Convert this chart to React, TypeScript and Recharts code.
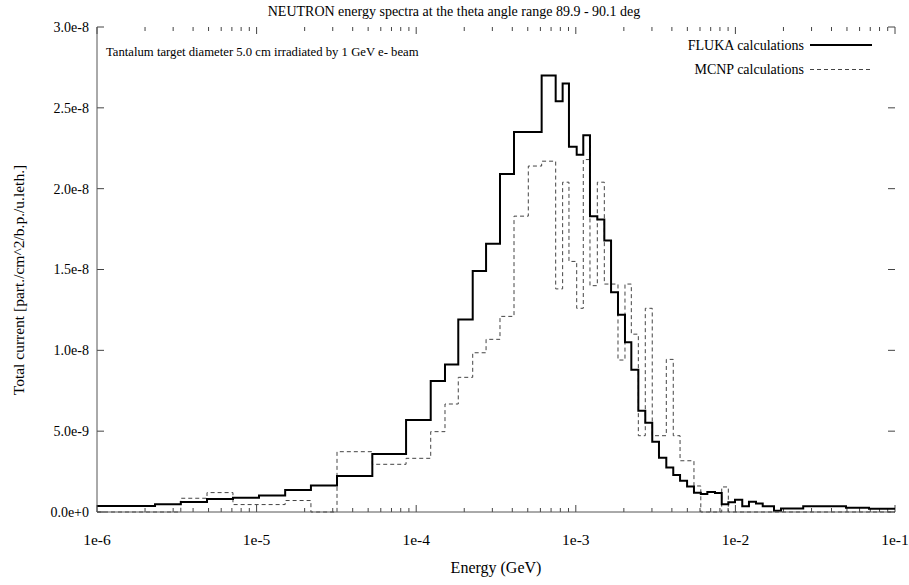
import { LineChart, Line, XAxis, YAxis, ReferenceLine } from 'recharts';

// lower bin edges (GeV); the last entry closes the final bin
const edges = [
  1e-6, 2.31e-6, 3.35e-6, 4.89e-6, 7.11e-6, 1.035e-5, 1.51e-5, 2.19e-5, 3.19e-5, 5.31e-5,
  8.64e-5, 1.233e-4, 1.515e-4, 1.835e-4, 2.26e-4, 2.74e-4, 3.35e-4, 4.1e-4, 5.04e-4, 6.11e-4,
  7.48e-4, 8.27e-4, 9.06e-4, 1.013e-3, 1.114e-3, 1.227e-3, 1.364e-3, 1.509e-3, 1.663e-3, 1.838e-3,
  2.033e-3, 2.228e-3, 2.465e-3, 2.725e-3, 3.013e-3, 3.32e-3, 3.69e-3, 4.08e-3, 4.5e-3, 4.98e-3,
  5.5e-3, 6.07e-3, 6.67e-3, 7.45e-3, 8.21e-3, 9.03e-3, 9.94e-3, 1.104e-2, 1.216e-2, 1.346e-2,
  1.483e-2, 1.745e-2, 1.93e-2, 2.66e-2, 4.93e-2, 6.87e-2, 1e-1,
];

const fluka = [
  3.7e-10, 4.8e-10, 6.2e-10, 8.0e-10, 8.8e-10, 1.02e-9, 1.36e-9, 1.64e-9, 2.23e-9, 3.59e-9,
  5.69e-9, 8.1e-9, 9.13e-9, 1.19e-8, 1.49e-8, 1.66e-8, 2.09e-8, 2.35e-8, 2.35e-8, 2.7e-8,
  2.54e-8, 2.65e-8, 2.26e-8, 2.21e-8, 2.33e-8, 1.83e-8, 1.81e-8, 1.68e-8, 1.36e-8, 1.22e-8,
  1.05e-8, 8.8e-9, 6.26e-9, 5.52e-9, 4.35e-9, 3.36e-9, 2.76e-9, 2.29e-9, 1.94e-9, 1.57e-9,
  1.19e-9, 1.11e-9, 1.24e-9, 1.18e-9, 4.8e-10, 6.0e-10, 7.6e-10, 3.5e-10, 6.4e-10, 5.2e-10,
  3.5e-10, 7e-11, 2.1e-10, 3.6e-10, 2.7e-10, 2.0e-10,
];

const mcnp = [
  0, 0, 8.5e-10, 1.2e-9, 4.6e-10, 4.6e-10, 7.1e-10, 0, 3.73e-9, 2.95e-9,
  3.32e-9, 4.97e-9, 6.68e-9, 8.33e-9, 9.85e-9, 1.068e-8, 1.21e-8, 1.83e-8, 2.14e-8, 2.17e-8,
  1.38e-8, 2.04e-8, 1.55e-8, 1.26e-8, 2.18e-8, 1.4e-8, 2.04e-8, 1.41e-8, 1.41e-8, 9.4e-9,
  1.41e-8, 1.1e-8, 4.72e-9, 1.26e-8, 4.72e-9, 4.72e-9, 9.44e-9, 4.72e-9, 3.17e-9, 3.17e-9,
  1.61e-9, 0, 0, 0, 1.55e-9, 0, 0, 0, 0, 0,
  0, 0, 0, 0, 0, 0,
];

const decades = [1e-6, 1e-5, 1e-4, 1e-3, 1e-2, 1e-1];
const decadeLabels = ['1e-6', '1e-5', '1e-4', '1e-3', '1e-2', '1e-1'];
const minorFactors = [2, 3, 4, 5, 6, 7, 8, 9];
const yTicks = [0, 5e-9, 1e-8, 1.5e-8, 2e-8, 2.5e-8, 3e-8];
const yTickLabels = ['0.0e+0', '5.0e-9', '1.0e-8', '1.5e-8', '2.0e-8', '2.5e-8', '3.0e-8'];

const X_MIN = 1e-6;
const X_MAX = 1e-1;
const Y_MAX = 3e-8;

const minorTicks = decades.slice(0, -1).flatMap((d) => minorFactors.map((m) => d * m));

const data = edges.map((e, i) => ({
  e,
  fluka: fluka[Math.min(i, fluka.length - 1)],
  mcnp: mcnp[Math.min(i, mcnp.length - 1)],
}));

const FONT = 'Liberation Serif';
const FRAME = '#555';
const TICK = '#444';
const text = (size: number) => ({ fontFamily: FONT, fontSize: size, fill: '#000' });

// inward tick lengths, expressed in axis units (plot is 798 x 485 px)
const yPerPx = Y_MAX / 485;
const xFactorPerPx = Math.pow(X_MAX / X_MIN, 1 / 798);
const MAJOR = 7;
const MINOR = 4;

const decadeLabel = (v: number) => {
  const i = decades.findIndex((d) => Math.abs(d - v) / d < 1e-6);
  return i >= 0 ? decadeLabels[i] : '';
};
const yLabel = (v: number) => yTickLabels[yTicks.indexOf(v)] ?? '';

const xTickMarks = [
  ...decades.map((v) => ({ v, len: MAJOR })),
  ...minorTicks.map((v) => ({ v, len: MINOR })),
];

export default function App() {
  return (
    <div style={{ position: 'relative', width: 909, height: 585, background: '#fff' }}>
      <style>{'body{margin:0}'}</style>
      <LineChart width={909} height={585} data={data} margin={{ top: 27, right: 14, bottom: 0, left: 7 }}>
        <XAxis
          dataKey="e"
          type="number"
          scale="log"
          domain={[X_MIN, X_MAX]}
          allowDataOverflow
          ticks={decades}
          interval={0}
          height={73}
          tickSize={0}
          tickMargin={22}
          tickFormatter={decadeLabel}
          tick={text(15.5)}
          axisLine={{ stroke: FRAME }}
          tickLine={false}
        />
        <XAxis
          xAxisId="top"
          dataKey="e"
          orientation="top"
          type="number"
          scale="log"
          domain={[X_MIN, X_MAX]}
          allowDataOverflow
          height={0}
          tick={false}
          tickLine={false}
          axisLine={{ stroke: FRAME }}
        />
        <YAxis
          type="number"
          domain={[0, Y_MAX]}
          ticks={yTicks}
          interval={0}
          width={90}
          tickSize={0}
          tickMargin={8}
          tickFormatter={yLabel}
          tick={text(14)}
          axisLine={{ stroke: FRAME }}
          tickLine={false}
        />
        <YAxis
          yAxisId="right"
          orientation="right"
          type="number"
          domain={[0, Y_MAX]}
          width={0}
          tick={false}
          tickLine={false}
          axisLine={{ stroke: FRAME }}
        />
        {xTickMarks.map(({ v, len }) => (
          <ReferenceLine
            key={`b${v}`}
            segment={[{ x: v, y: 0 }, { x: v, y: len * yPerPx }]}
            stroke={TICK}
          />
        ))}
        {xTickMarks.map(({ v, len }) => (
          <ReferenceLine
            key={`t${v}`}
            segment={[{ x: v, y: Y_MAX }, { x: v, y: Y_MAX - len * yPerPx }]}
            stroke={TICK}
          />
        ))}
        {yTicks.map((v) => (
          <ReferenceLine
            key={`l${v}`}
            segment={[{ x: X_MIN, y: v }, { x: X_MIN * Math.pow(xFactorPerPx, MAJOR), y: v }]}
            stroke={TICK}
          />
        ))}
        {yTicks.map((v) => (
          <ReferenceLine
            key={`r${v}`}
            segment={[{ x: X_MAX / Math.pow(xFactorPerPx, MAJOR), y: v }, { x: X_MAX, y: v }]}
            stroke={TICK}
          />
        ))}
        <Line
          dataKey="mcnp"
          type="stepAfter"
          stroke="#444"
          strokeWidth={1}
          strokeDasharray="4 3"
          dot={false}
          isAnimationActive={false}
        />
        <Line
          dataKey="fluka"
          type="stepAfter"
          stroke="#000"
          strokeWidth={2}
          dot={false}
          isAnimationActive={false}
        />
      </LineChart>
      <svg
        width={909}
        height={585}
        style={{ position: 'absolute', left: 0, top: 0, pointerEvents: 'none' }}
      >
        <text x={454} y={16} textAnchor="middle" style={text(14)}>
          NEUTRON energy spectra at the theta angle range 89.9 - 90.1 deg
        </text>
        <text x={106} y={56} style={text(12.7)}>
          Tantalum target diameter 5.0 cm irradiated by 1 GeV e- beam
        </text>
        <text x={804} y={50} textAnchor="end" style={text(14)}>FLUKA calculations</text>
        <line x1={810} x2={872} y1={45} y2={45} stroke="#000" strokeWidth={2} />
        <text x={804} y={74} textAnchor="end" style={text(14)}>MCNP calculations</text>
        <line x1={810} x2={872} y1={69.5} y2={69.5} stroke="#444" strokeWidth={1} strokeDasharray="4 3" />
        <text x={496} y={573} textAnchor="middle" style={text(16)}>Energy (GeV)</text>
        <text x={19} y={280} textAnchor="middle" dy="0.35em" transform="rotate(-90 19 280)" style={text(15.5)}>
          Total current [part./cm^2/b.p./u.leth.]
        </text>
      </svg>
    </div>
  );
}
